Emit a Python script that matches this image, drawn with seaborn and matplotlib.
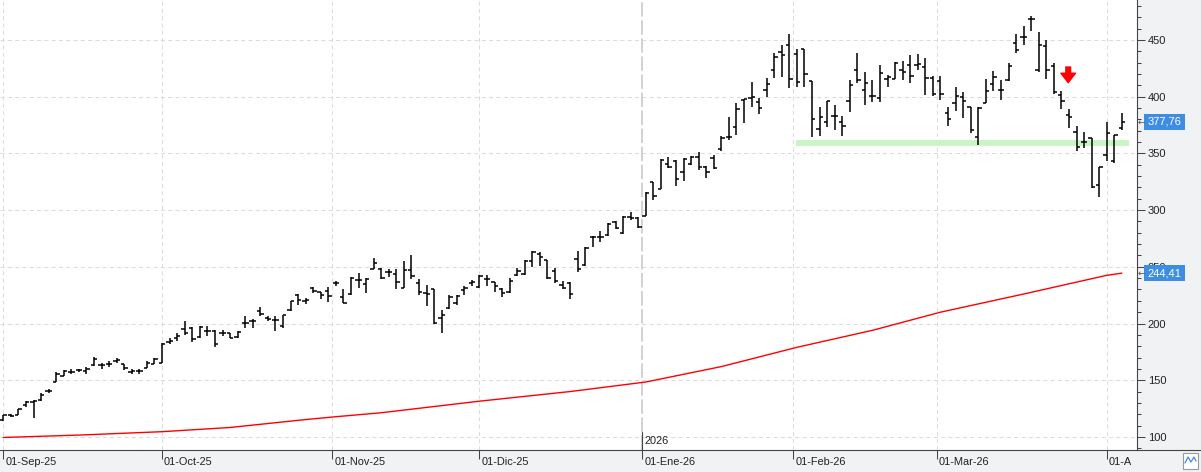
import numpy as np
import pandas as pd
import matplotlib
matplotlib.use("Agg")
import matplotlib.pyplot as plt
import seaborn as sns
from matplotlib.transforms import blended_transform_factory, ScaledTranslation
import matplotlib.patches as mpatches
import matplotlib.lines as mlines

# ---------------- data ----------------
opens = [114.5, 119.5, 119.2, 128.0, 130.5, 132.4, 140.6, 148.6, 153.9, 157.4,
         158.6, 157.7, 163.3, 163.3, 164.0, 166.5, 164.2, 157.6, 157.8, 161.2,
         164.7, 165.6, 183.8, 186.8, 195.0, 195.6, 188.0, 193.6, 193.0, 192.0,
         191.5, 188.0, 200.3, 202.4, 211.2, 205.3, 203.2, 197.4, 211.8, 225.0,
         220.0, 230.9, 227.4, 228.8, 235.3, 223.8, 225.9, 238.5, 234.7, 248.5,
         247.7, 245.0, 243.3, 231.0, 247.0, 235.4, 226.6, 230.7, 204.5, 213.3,
         218.3, 229.5, 235.4, 232.4, 238.9, 236.3, 230.0, 227.4, 242.7, 243.3,
         255.4, 261.3, 256.0, 246.5, 233.9, 235.9, 256.8, 251.6, 276.5, 275.9,
         278.0, 289.8, 279.5, 294.2, 293.3, 295.0, 325.0, 318.3, 340.6, 343.3,
         333.3, 340.3, 346.5, 338.3, 346.2, 353.6, 364.7, 373.0, 397.1, 398.5,
         395.6, 405.9, 423.4, 439.5, 445.3, 438.0, 442.4, 413.7, 371.6, 378.1,
         383.0, 378.1, 396.2, 423.4, 405.8, 400.6, 399.1, 416.0, 415.2, 423.4,
         427.8, 428.4, 426.3, 416.7, 413.7, 385.4, 394.1, 400.0, 390.6, 364.9,
         394.7, 411.1, 405.8, 414.6, 447.4, 452.6, 468.7, 423.4, 444.4, 426.9,
         401.5, 383.9, 369.3, 360.5, 363.5, 322.5, 348.8, 343.0, 372.2]
highs = [119.5, 120.5, 124.5, 131.5, 132.4, 138.3, 142.6, 156.8, 158.8, 159.7,
         160.3, 161.8, 170.9, 165.0, 166.8, 170.0, 164.7, 159.7, 159.7, 166.5,
         169.4, 182.4, 186.8, 191.5, 201.8, 196.5, 197.4, 197.4, 194.4, 194.4,
         192.0, 193.6, 206.8, 203.8, 214.7, 206.5, 206.2, 207.4, 220.0, 225.9,
         222.6, 232.4, 228.2, 231.8, 237.6, 230.3, 240.6, 244.6, 240.0, 257.4,
         249.2, 247.7, 247.7, 255.0, 260.4, 238.9, 233.9, 230.7, 211.9, 225.0,
         225.0, 233.3, 238.3, 242.7, 242.7, 236.8, 231.0, 240.4, 248.6, 256.0,
         263.9, 262.7, 256.0, 249.2, 237.7, 236.8, 264.2, 267.7, 277.0, 281.8,
         288.9, 290.7, 294.8, 298.6, 294.2, 315.6, 325.0, 344.8, 346.5, 344.2,
         345.6, 347.7, 350.9, 339.2, 348.6, 365.3, 381.8, 394.7, 397.7, 413.2,
         398.5, 416.8, 438.9, 445.3, 455.6, 442.4, 442.4, 413.7, 390.6, 396.5,
         392.7, 383.0, 414.6, 438.9, 421.9, 414.6, 428.4, 419.0, 430.7, 431.6,
         436.5, 437.4, 434.2, 418.1, 418.1, 390.6, 408.2, 404.4, 391.2, 390.6,
         415.2, 422.8, 414.6, 429.8, 455.0, 462.0, 471.6, 457.0, 449.7, 430.1,
         405.0, 388.9, 374.6, 368.7, 364.0, 338.0, 378.1, 366.4, 385.4]
lows = [114.0, 117.5, 119.0, 126.0, 116.5, 131.8, 138.5, 148.0, 153.6, 155.9,
        157.4, 155.9, 162.7, 159.7, 162.0, 165.0, 158.9, 155.3, 155.3, 160.9,
        164.1, 165.6, 181.5, 185.0, 189.7, 183.3, 187.5, 189.1, 179.7, 188.6,
        186.8, 187.4, 195.6, 195.6, 206.8, 202.5, 193.0, 195.9, 211.2, 216.2,
        217.6, 226.5, 221.5, 219.4, 233.2, 218.0, 225.3, 230.9, 226.5, 248.5,
        238.9, 240.7, 230.0, 231.0, 238.9, 225.0, 215.7, 199.2, 191.9, 213.0,
        216.3, 225.0, 233.0, 231.0, 233.0, 227.4, 223.0, 226.6, 241.8, 242.7,
        250.0, 251.0, 239.2, 235.4, 230.0, 221.3, 245.7, 250.9, 267.7, 272.1,
        277.0, 283.0, 278.6, 291.2, 283.9, 295.0, 308.9, 318.3, 336.8, 321.5,
        325.9, 339.5, 335.3, 328.0, 336.2, 352.4, 361.8, 366.5, 377.0, 390.6,
        384.7, 400.0, 416.7, 417.5, 407.3, 408.2, 408.2, 364.3, 365.8, 373.1,
        370.8, 365.5, 386.8, 411.7, 392.7, 395.6, 395.0, 408.2, 415.2, 414.6,
        411.7, 423.4, 401.5, 400.6, 397.0, 374.3, 387.7, 381.0, 367.8, 357.6,
        394.1, 405.3, 397.0, 413.7, 438.6, 445.3, 457.9, 421.9, 415.2, 402.3,
        388.9, 372.2, 351.8, 354.6, 319.6, 311.7, 343.0, 341.8, 371.0]
closes = [119.2, 118.6, 124.4, 131.0, 131.5, 136.8, 140.6, 155.3, 157.7, 157.6,
          159.0, 160.3, 169.1, 163.5, 164.4, 167.7, 161.2, 157.8, 157.8, 165.6,
          168.6, 181.8, 184.7, 189.1, 192.0, 186.2, 197.0, 193.6, 181.8, 192.0,
          187.4, 192.7, 200.3, 202.4, 208.3, 203.8, 203.2, 207.4, 220.0, 220.9,
          220.5, 228.8, 225.0, 224.4, 235.3, 218.5, 239.7, 238.5, 239.1, 253.8,
          239.8, 245.0, 236.6, 247.0, 241.8, 228.0, 225.7, 200.1, 207.4, 223.0,
          224.2, 231.0, 236.8, 241.8, 238.9, 233.3, 226.6, 237.7, 246.5, 255.4,
          263.3, 258.3, 240.4, 237.7, 231.0, 225.7, 248.3, 266.3, 276.5, 275.9,
          287.7, 283.9, 294.2, 292.7, 284.8, 315.0, 312.7, 344.2, 338.3, 327.1,
          345.0, 346.5, 338.3, 333.3, 336.8, 363.3, 364.7, 388.8, 397.7, 399.4,
          389.7, 410.9, 435.1, 436.5, 415.2, 413.2, 419.9, 380.4, 382.5, 396.5,
          383.0, 374.3, 410.2, 414.6, 412.3, 400.6, 421.0, 417.0, 429.8, 421.9,
          418.1, 429.2, 416.1, 402.0, 402.0, 380.4, 400.9, 396.5, 370.8, 389.8,
          405.3, 417.0, 405.8, 426.9, 441.5, 452.6, 468.7, 445.3, 423.4, 404.4,
          396.5, 382.5, 356.1, 359.7, 320.5, 338.0, 367.9, 366.4, 377.76]

# moving average (red line), sampled at bar indices
ma_idx = [0, 10, 21, 30, 40, 44, 50, 63, 75, 85, 95, 105, 115, 124, 135, 146, 148]
ma_vals = [99.5, 101.6, 104.6, 108.3, 115.3, 117.8, 121.3, 131.5, 140.0, 148.4,
           162.0, 179.0, 194.0, 210.0, 226.0, 242.5, 244.41]

month_labels = ["01-Sep-25", "01-Oct-25", "01-Nov-25", "01-Dic-25",
                "01-Ene-26", "01-Feb-26", "01-Mar-26", "01-A"]
year_label = "2026"
y_ticks = [100, 150, 200, 250, 300, 350, 400, 450]

last_close = 377.76
last_ma = 244.41
support_level = 359.5
support_span = (104.9, 148.95)
signal_x = 140.9
signal_top, signal_tip = 426.2, 412.4

# trading calendar (US) for the bar index -> date mapping
holidays = pd.to_datetime(["2025-11-27", "2025-12-25", "2026-01-01",
                           "2026-01-19", "2026-02-16"])
dates = pd.bdate_range("2025-09-02", "2026-04-03")
dates = dates[~dates.isin(holidays)]
n = len(closes)
dates = dates[:n]

# ---------------- style ----------------
sns.set_theme(style="white")
plt.rcParams["font.family"] = ["Liberation Sans", "DejaVu Sans"]

W, H = 1201, 472
fig = plt.figure(figsize=(W / 100, H / 100), dpi=100, facecolor="#f1f2f4")
ax = fig.add_axes([0, 22 / H, 1137 / W, 450 / H])
ax.set_facecolor("white")

x = np.arange(n)
df = pd.DataFrame({"x": x, "open": opens, "high": highs, "low": lows, "close": closes})

# month tick positions (first trading day, shifted a little when the 1st is not traded)
month_pos = []
prev = None
for i, d in enumerate(dates):
    if d.month != prev:
        month_pos.append(i - (0.45 if (d.day != 1 and i > 0) else 0.0))
        prev = d.month
year_pos = month_pos[4]

# grid
grid_kw = dict(color="#dcdcdc", lw=0.75, ls=(0, (4, 3)), zorder=0.5)
for yv in y_ticks:
    ax.axhline(yv, **grid_kw)
for xv in month_pos:
    if xv != year_pos:
        ax.axvline(xv, **grid_kw)
ax.axvline(year_pos, color="#cfcfcf", lw=1.3, ls=(0, (8, 2)), zorder=0.6)

# support band
ax.hlines(support_level, support_span[0], support_span[1], color="#c9f5c6",
          lw=4.2, zorder=1)

# moving average
sns.lineplot(x=ma_idx, y=ma_vals, color="#ff0000", lw=1.0, ax=ax, zorder=2)

# OHLC bars
bar_kw = dict(color="black", lw=1.1, zorder=3)
ax.vlines(df["x"], df["low"], df["high"], **bar_kw)
ax.hlines(df["open"], df["x"] - 0.44, df["x"], **bar_kw)
ax.hlines(df["close"], df["x"], df["x"] + 0.44, **bar_kw)

# signal arrow
ax.annotate("", xy=(signal_x, signal_tip), xytext=(signal_x, signal_top),
            arrowprops=dict(arrowstyle="simple,head_length=0.68,head_width=1.05,tail_width=0.34",
                            color="#ff0000", shrinkA=0, shrinkB=0, mutation_scale=10),
            zorder=4)

# limits
ax.set_xlim(-0.44, 150.0)
ax.set_ylim(88.45, 485.3)
ax.set_xlabel("")
ax.set_ylabel("")

# right axis
ax.yaxis.tick_right()
ax.set_yticks(y_ticks)
ax.set_yticks(np.arange(90, 490, 10), minor=True)
ax.tick_params(axis="y", which="major", length=5.8, width=0.75, color="#444444",
               pad=2, labelsize=8.0, labelcolor="#222222", right=True, left=False)
ax.tick_params(axis="y", which="minor", length=3.2, width=0.75, color="#444444",
               right=True, left=False)

# bottom axis
ax.set_xticks(month_pos)
ax.set_xticklabels(month_labels)
ax.tick_params(axis="x", which="major", length=6.5, width=0.75, color="#444444",
               pad=-1.2, labelsize=7.9, labelcolor="#222222", bottom=True)
shift = ScaledTranslation(2 / 100, 0, fig.dpi_scale_trans)
for lab in ax.get_xticklabels():
    lab.set_horizontalalignment("left")
    lab.set_transform(lab.get_transform() + shift)

for s in ["top", "left"]:
    ax.spines[s].set_visible(False)
for s in ["right", "bottom"]:
    ax.spines[s].set_visible(True)
    ax.spines[s].set_color("#444444")
    ax.spines[s].set_linewidth(0.8)

# year marker
tb = blended_transform_factory(ax.transData, ax.transAxes)
ax.plot([year_pos, year_pos], [0, 0.04], color="#444444", lw=0.8, transform=tb,
        clip_on=False, zorder=3)
ax.text(year_pos, 0.02, year_label, transform=tb + shift, ha="left", va="center",
        fontsize=7.9, color="#222222")

# value labels on the right axis
for val in [last_close, last_ma]:
    ax.annotate(f"{val:.2f}".replace(".", ","), xy=(1, val),
                xycoords=("axes fraction", "data"), xytext=(7.6, 0),
                textcoords="offset points", ha="left", va="center",
                fontsize=8.0, color="white", annotation_clip=False, zorder=6,
                bbox=dict(boxstyle="square,pad=0.3", fc="#3d8ee3", ec="none"))
    ax.annotate("\u2190", xy=(1, val), xycoords=("axes fraction", "data"),
                xytext=(0.6, 0), textcoords="offset points", ha="left", va="center",
                fontsize=6.5, color="#555555", annotation_clip=False, zorder=6,
                family="DejaVu Sans")

# bottom line across the right panel and small corner icon
fig.add_artist(mlines.Line2D([1137 / W, 1], [22 / H, 22 / H], color="#444444", lw=0.8))
fig.add_artist(mpatches.Rectangle((1183 / W, 3 / H), 15 / W, 16 / H, fc="white",
                                  ec="#9a9a9a", lw=0.8))
fig.add_artist(mlines.Line2D(np.array([1185, 1188, 1191, 1194, 1196]) / W,
                             np.array([9, 15, 10, 15, 11]) / H, color="#3d8ee3", lw=0.9))

fig.savefig("out.png", dpi=100, facecolor=fig.get_facecolor())
